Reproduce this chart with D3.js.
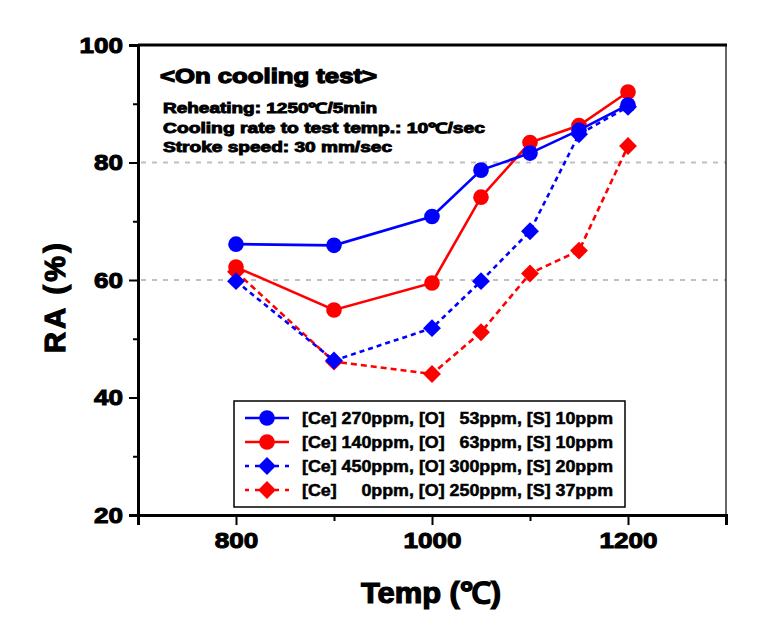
<!DOCTYPE html>
<html><head><meta charset="utf-8">
<script src="https://cdn.jsdelivr.net/npm/d3@7"></script>
<style>body{margin:0;background:#fff}svg{display:block}text{font-family:"Liberation Sans",Arial,sans-serif;font-weight:bold}</style>
</head><body><svg id="c" width="775" height="626"></svg>
<script>
const temps = [800, 900, 1000, 1050, 1100, 1150, 1200];
const ceLow = [66.1, 65.9, 70.8, 78.7, 81.6, 85.5, 89.8];
const ceMid = [62.2, 54.9, 59.5, 74.1, 83.4, 86.3, 92.0];
const ceHigh = [59.8, 46.3, 51.8, 59.8, 68.3, 84.8, 89.5];
const ceZero = [61.4, 46.1, 44.0, 51.1, 61.1, 65.0, 82.8];
const seriesNames = [
  "[Ce] 270ppm, [O]   53ppm, [S] 10ppm",
  "[Ce] 140ppm, [O]   63ppm, [S] 10ppm",
  "[Ce] 450ppm, [O] 300ppm, [S] 20ppm",
  "[Ce]     0ppm, [O] 250ppm, [S] 37ppm"
];
const xTicks = [800, 1000, 1200];
const xMinor = [700, 900, 1100, 1300];
const yTicks = [20, 40, 60, 80, 100];
const yMinor = [30, 50, 70, 90];
const gridVals = [60, 80];
const notes = ["<On cooling test>", "Reheating: 1250\u2103/5min", "Cooling rate to test temp.: 10\u2103/sec", "Stroke speed: 30 mm/sec"];

const series = [
  {name: seriesNames[0], vals: ceLow, color: "#0000ff", shape: "circle", dash: null},
  {name: seriesNames[1], vals: ceMid, color: "#ff0000", shape: "circle", dash: null},
  {name: seriesNames[2], vals: ceHigh, color: "#0000ff", shape: "diamond", dash: "5,4"},
  {name: seriesNames[3], vals: ceZero, color: "#ff0000", shape: "diamond", dash: "6,4"}
];

const svg = d3.select("#c");
const x = d3.scaleLinear().domain([700, 1300]).range([138, 726]);
const y = d3.scaleLinear().domain([20, 100]).range([515, 45]);

// grid
svg.append("g").selectAll("line").data(gridVals).join("line")
  .attr("x1", x(700) + 3).attr("x2", x(1300)).attr("y1", d => y(d)).attr("y2", d => y(d))
  .attr("stroke", "#c0c0c0").attr("stroke-width", 2).attr("stroke-dasharray", "5,6");

// frame top and right
svg.append("line").attr("x1", x(700)).attr("x2", x(1300) + 1).attr("y1", y(100)).attr("y2", y(100)).attr("stroke", "#000").attr("stroke-width", 3);
svg.append("line").attr("x1", x(1300)).attr("x2", x(1300)).attr("y1", y(100)).attr("y2", y(20) + 5).attr("stroke", "#000").attr("stroke-width", 1.2);

// axes
const xAx = svg.append("g").attr("transform", `translate(0,${y(20)})`)
  .call(d3.axisBottom(x).tickValues(xTicks).tickFormat(d3.format("d")).tickSize(10).tickPadding(7));
const xAxMinor = svg.append("g").attr("transform", `translate(0,${y(20)})`)
  .call(d3.axisBottom(x).tickValues(xMinor).tickFormat("").tickSize(6));
const yAx = svg.append("g").attr("transform", `translate(${x(700)},0)`)
  .call(d3.axisLeft(y).tickValues(yTicks).tickFormat(d3.format("d")).tickSize(9).tickPadding(6));
const yAxMinor = svg.append("g").attr("transform", `translate(${x(700)},0)`)
  .call(d3.axisLeft(y).tickValues(yMinor).tickFormat("").tickSize(5));
[xAx, xAxMinor, yAx, yAxMinor].forEach(g => {
  g.select(".domain").attr("stroke", "#000").attr("stroke-width", 3);
  g.selectAll(".tick line").attr("stroke", "#000").attr("stroke-width", 2);
  g.selectAll(".tick text").attr("font-size", 22).attr("fill", "#000")
    .attr("font-family", "Liberation Sans, Arial, sans-serif").attr("font-weight", "bold")
    .attr("stroke", "#000").attr("stroke-width", 1)
    .attr("textLength", function() { return this.textContent.length * 14.5; })
    .attr("lengthAdjust", "spacingAndGlyphs");
});
xAxMinor.select(".domain").remove();
yAxMinor.select(".domain").remove();

// axis titles
svg.append("text").attr("x", 431).attr("y", 603).attr("text-anchor", "middle")
  .attr("font-size", 29).attr("stroke", "#000").attr("stroke-width", 1.2)
  .attr("textLength", 140).attr("lengthAdjust", "spacingAndGlyphs").text("Temp (\u2103)");
svg.append("text").attr("transform", "translate(65,298) rotate(-90)").attr("text-anchor", "middle")
  .attr("font-size", 29).attr("stroke", "#000").attr("stroke-width", 1.2).attr("textLength", 110).attr("lengthAdjust", "spacing").text("RA (%)");

// notes
const noteY = [83, 113, 133, 152];
const noteX = [160, 163, 163, 163];
const noteW = [217, 214, 322, 229];
const noteFs = [21, 14, 14, 14];
notes.forEach((t, i) => {
  svg.append("text").attr("x", noteX[i]).attr("y", noteY[i]).attr("font-size", noteFs[i])
    .attr("stroke", "#000").attr("stroke-width", i === 0 ? 1.3 : 0.9)
    .attr("textLength", noteW[i]).attr("lengthAdjust", "spacingAndGlyphs").text(t);
});

const diamond = d3.symbol().type(d3.symbolSquare).size(160);
function drawMarker(g, shape, color, cx, cy) {
  if (shape === "circle") {
    g.append("circle").attr("cx", cx).attr("cy", cy).attr("r", 7.8).attr("fill", color);
  } else {
    g.append("path").attr("d", diamond()).attr("transform", `translate(${cx},${cy}) rotate(45)`).attr("fill", color);
  }
}

// draw series (order so blue on top)
const order = [3, 1, 2, 0];
const line = d3.line().x((d, i) => x(temps[i])).y(d => y(d));
order.forEach(k => {
  const s = series[k];
  const g = svg.append("g");
  g.append("path").attr("d", line(s.vals)).attr("fill", "none").attr("stroke", s.color)
    .attr("stroke-width", 2.6).attr("stroke-dasharray", s.dash);
  s.vals.forEach((v, i) => drawMarker(g, s.shape, s.color, x(temps[i]), y(v)));
});

// legend
const lg = svg.append("g");
lg.append("rect").attr("x", 234).attr("y", 401).attr("width", 391).attr("height", 106)
  .attr("fill", "#fff").attr("stroke", "#000").attr("stroke-width", 1.5);
series.forEach((s, i) => {
  const ry = 418 + i * 24;
  lg.append("line").attr("x1", 245).attr("x2", 289).attr("y1", ry).attr("y2", ry)
    .attr("stroke", s.color).attr("stroke-width", 2.5).attr("stroke-dasharray", s.dash ? "4,6" : null);
  drawMarker(lg, s.shape, s.color, 267, ry);
  lg.append("text").attr("x", 302).attr("y", ry + 6).attr("font-size", 16)
    .attr("stroke", "#000").attr("stroke-width", 0.5)
    .attr("textLength", 311).attr("lengthAdjust", "spacingAndGlyphs")
    .style("white-space", "pre").text(s.name);
});
</script></body></html>
